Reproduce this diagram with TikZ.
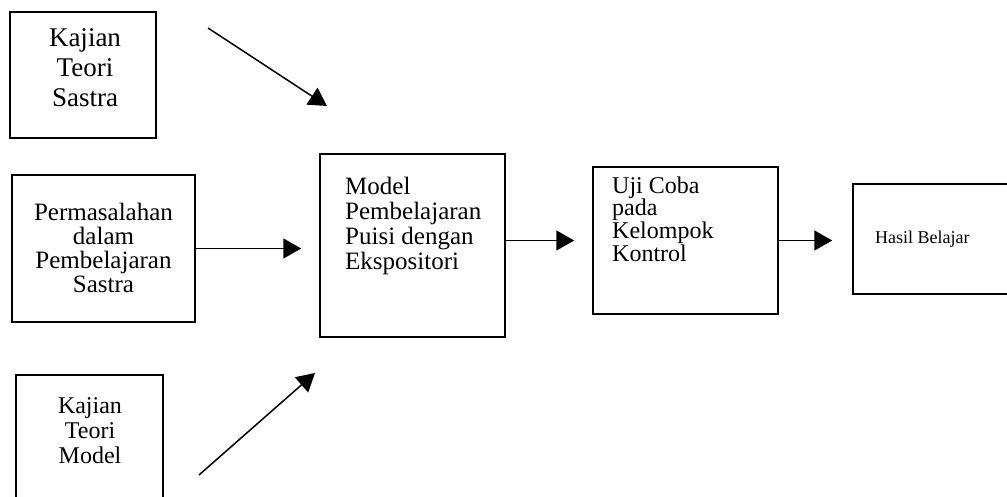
\documentclass[tikz,border=0pt]{standalone}
\usepackage{fontspec}
\setmainfont{Liberation Serif}
\usetikzlibrary{arrows.meta}
\begin{document}
\begin{tikzpicture}[x=1pt,y=-1pt,
  box/.style={draw, line width=1.5pt, inner sep=0pt},
  txt/.style={inner sep=0pt},
  arr/.style={line width=1.5pt, -{Triangle[length=18pt,width=20pt]}}]
\useasboundingbox (0,0) rectangle (1007,497);
% boxes
\node[box, minimum width=146pt, minimum height=126pt] (k1) at (83,75) {};
\node[box, minimum width=183pt, minimum height=147pt] (k2) at (103.5,248.5) {};
\node[box, minimum width=147pt, minimum height=145pt] (k3) at (89.5,447.5) {};
\node[box, minimum width=185pt, minimum height=183pt] (m) at (412.5,245.5) {};
\node[box, minimum width=185pt, minimum height=147pt] (u) at (685.5,240.5) {};
\node[box, minimum width=159pt, minimum height=110pt] (h) at (932.5,239) {};
% texts
\node[txt, align=center, font=\fontsize{27}{30}\selectfont] (t1) at (85,68) {Kajian\\Teori\\Sastra};
\node[txt, align=center, font=\fontsize{25}{24}\selectfont] (t2) at (103.5,248) {Permasalahan\\dalam\\Pembelajaran\\Sastra};
\node[txt, align=center, font=\fontsize{24}{25}\selectfont] (t3) at (90,431) {Kajian\\Teori\\Model};
\node[txt, align=left, anchor=west, font=\fontsize{25}{25}\selectfont] (t4) at (345,226) {Model\\Pembelajaran\\Puisi dengan\\Ekspositori};
\node[txt, align=left, anchor=west, font=\fontsize{24}{21.5}\selectfont] (t5) at (612,219) {Uji Coba\\pada\\Kelompok\\Kontrol};
\node[txt, anchor=west, font=\fontsize{18}{20}\selectfont] (t6) at (875,239) {Hasil Belajar};
% connectors
\coordinate (a1s) at (208,28);
\coordinate (a1e) at (327,106);
\coordinate (a3s) at (199,475);
\coordinate (a3e) at (315,373);
\draw[arr] (a1s) -- (a1e);
\draw[arr] (a3s) -- (a3e);
\draw[arr, shorten >=18pt] (k2.east) -- (k2.east -| m.west);
\draw[arr, shorten >=18pt] (m.east |- u.west) -- (u.west);
\draw[arr, shorten >=20pt] (u.east) -- (u.east -| h.west);
\end{tikzpicture}
\end{document}
